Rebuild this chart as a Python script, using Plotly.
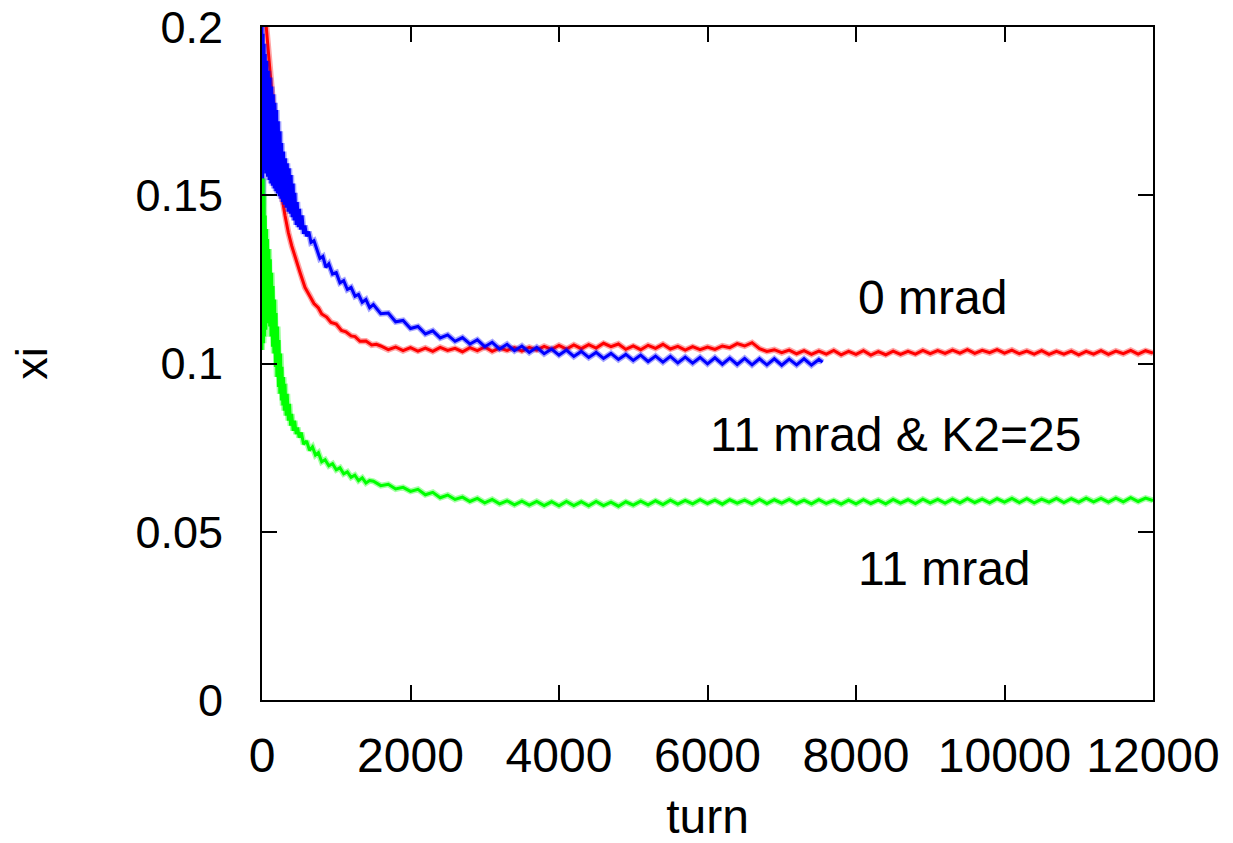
import plotly.graph_objects as go

# ---------------- data ----------------
red_turn_early = [0, 30, 63, 108, 140, 175, 220, 265, 310, 354, 400, 444, 510, 579, 640, 700,
                  760, 804, 870, 930, 1000, 1070, 1130, 1200, 1253, 1320, 1400, 1477, 1540]
red_xi_early = [0.2150, 0.2070, 0.2000, 0.1872, 0.1780, 0.1694, 0.1595, 0.1500, 0.1440, 0.1390,
                0.1350, 0.1317, 0.1272, 0.1226, 0.1203, 0.1178, 0.1165, 0.1147, 0.1138, 0.1122,
                0.1117, 0.1098, 0.1094, 0.1082, 0.1080, 0.1066, 0.1067, 0.1055, 0.1057]
red_turn_flat = list(range(1600, 12001, 100))
red_xi_flat = [
    0.1052, 0.1041, 0.1049, 0.1038, 0.1047, 0.1037, 0.1046, 0.1036, 0.1048, 0.1039,
    0.1045, 0.1035, 0.1047, 0.1038, 0.1049, 0.1036, 0.1046, 0.1039, 0.1047, 0.1037,
    0.1048, 0.1040, 0.1051, 0.1042, 0.1054, 0.1043, 0.1055, 0.1044, 0.1056, 0.1046,
    0.1060, 0.1050, 0.1058, 0.1042, 0.1052, 0.1041, 0.1054, 0.1045, 0.1057, 0.1043,
    0.1051, 0.1040, 0.1050, 0.1041, 0.1049, 0.1042, 0.1052, 0.1047, 0.1059, 0.1052,
    0.1062, 0.1044, 0.1036, 0.1041, 0.1032, 0.1040, 0.1029, 0.1038, 0.1027, 0.1037,
    0.1028, 0.1039, 0.1026, 0.1036, 0.1027, 0.1038, 0.1025, 0.1035, 0.1026, 0.1037,
    0.1027, 0.1036, 0.1028, 0.1039, 0.1029, 0.1038, 0.1030, 0.1040, 0.1031, 0.1041,
    0.1030, 0.1039, 0.1032, 0.1041, 0.1031, 0.1040, 0.1029, 0.1037, 0.1028, 0.1038,
    0.1027, 0.1036, 0.1028, 0.1037, 0.1026, 0.1036, 0.1028, 0.1038, 0.1027, 0.1037,
    0.1029, 0.1039, 0.1028, 0.1038, 0.1031]

blue_turn_early = [0, 3, 6, 10, 15, 20, 28, 36, 44, 52, 63, 74, 85, 96, 108, 119, 130, 142, 153,
                   164, 175, 186, 197, 208, 220, 232, 244, 255, 265, 277, 290, 302, 315, 328,
                   341, 354, 367, 380, 393, 406, 420, 432, 444, 460, 475, 489, 505, 520, 540,
                   560, 579, 600, 630, 660, 700, 740, 780, 820, 860, 900, 950, 1000, 1050,
                   1100, 1150, 1200, 1253, 1300, 1350, 1400, 1450, 1500]
blue_xi_early = [0.2000, 0.1250, 0.1990, 0.1550, 0.1980, 0.1580, 0.1950, 0.1575, 0.1920, 0.1565,
                 0.1900, 0.1555, 0.1870, 0.1545, 0.1850, 0.1535, 0.1823, 0.1528, 0.1800, 0.1520,
                 0.1775, 0.1512, 0.1753, 0.1505, 0.1720, 0.1497, 0.1690, 0.1490, 0.1655, 0.1480,
                 0.1630, 0.1472, 0.1610, 0.1463, 0.1595, 0.1451, 0.1580, 0.1445, 0.1560, 0.1435,
                 0.1535, 0.1425, 0.1507, 0.1412, 0.1480, 0.1405, 0.1460, 0.1398, 0.1440, 0.1385,
                 0.1410, 0.1378, 0.1392, 0.1360, 0.1365, 0.1340, 0.1312, 0.1318, 0.1286, 0.1296,
                 0.1266, 0.1270, 0.1240, 0.1246, 0.1220, 0.1226, 0.1200, 0.1205, 0.1182, 0.1190,
                 0.1166, 0.1175]
blue_turn_flat = list(range(1600, 7501, 100)) + [7550]
blue_xi_flat = [
    0.1148, 0.1150, 0.1124, 0.1128, 0.1104, 0.1110, 0.1088, 0.1097, 0.1076, 0.1085,
    0.1066, 0.1077, 0.1058, 0.1070, 0.1050, 0.1063, 0.1043, 0.1057, 0.1038, 0.1052,
    0.1033, 0.1048, 0.1029, 0.1043, 0.1025, 0.1040, 0.1021, 0.1036, 0.1018, 0.1033,
    0.1015, 0.1030, 0.1012, 0.1027, 0.1009, 0.1025, 0.1006, 0.1022, 0.1004, 0.1021,
    0.1002, 0.1019, 0.1001, 0.1018, 0.0999, 0.1017, 0.0998, 0.1016, 0.0997, 0.1015,
    0.0996, 0.1014, 0.0996, 0.1014, 0.0995, 0.1013, 0.0996, 0.1014, 0.0995, 0.1012,
    0.1004]

green_turn_early = [0, 5, 10, 15, 20, 28, 36, 44, 52, 60, 68, 76, 85, 94, 103, 112, 121, 130,
                    140, 150, 160, 170, 180, 190, 200, 210, 220, 230, 240, 250, 260, 270, 280,
                    290, 300, 310, 325, 340, 355, 370, 385, 400, 420, 440, 460, 480, 500, 530,
                    560, 600, 640, 680, 720, 760, 804, 850, 900, 950, 1000, 1050, 1100, 1150,
                    1200, 1250, 1300, 1350, 1400, 1450]
green_xi_early = [0.1040, 0.1480, 0.1050, 0.1550, 0.1060, 0.1500, 0.1080, 0.1440, 0.1100, 0.1400,
                  0.1120, 0.1370, 0.1130, 0.1340, 0.1110, 0.1310, 0.1080, 0.1270, 0.1050, 0.1230,
                  0.1030, 0.1190, 0.0990, 0.1150, 0.0960, 0.1110, 0.0930, 0.1070, 0.0910, 0.1030,
                  0.0890, 0.0990, 0.0875, 0.0960, 0.0860, 0.0940, 0.0845, 0.0910, 0.0830, 0.0880,
                  0.0815, 0.0850, 0.0800, 0.0830, 0.0790, 0.0810, 0.0780, 0.0795, 0.0760, 0.0770,
                  0.0742, 0.0752, 0.0728, 0.0735, 0.0708, 0.0714, 0.0696, 0.0702, 0.0684, 0.0690,
                  0.0672, 0.0678, 0.0662, 0.0668, 0.0652, 0.0660, 0.0645, 0.0652]
green_turn_flat = list(range(1500, 12001, 100))
green_xi_flat = [
    0.0650, 0.0637, 0.0641, 0.0627, 0.0632, 0.0620, 0.0626, 0.0610, 0.0617, 0.0601,
    0.0609, 0.0596, 0.0603, 0.0590, 0.0599, 0.0586, 0.0596, 0.0583, 0.0592, 0.0580,
    0.0591, 0.0579, 0.0590, 0.0578, 0.0589, 0.0577, 0.0590, 0.0578, 0.0589, 0.0577,
    0.0590, 0.0578, 0.0588, 0.0576, 0.0589, 0.0579, 0.0591, 0.0580, 0.0592, 0.0581,
    0.0594, 0.0582, 0.0593, 0.0583, 0.0595, 0.0584, 0.0594, 0.0582, 0.0595, 0.0585,
    0.0594, 0.0583, 0.0596, 0.0584, 0.0595, 0.0585, 0.0596, 0.0584, 0.0594, 0.0583,
    0.0595, 0.0584, 0.0593, 0.0582, 0.0594, 0.0583, 0.0595, 0.0584, 0.0594, 0.0583,
    0.0596, 0.0585, 0.0595, 0.0584, 0.0597, 0.0586, 0.0596, 0.0585, 0.0597, 0.0586,
    0.0598, 0.0587, 0.0597, 0.0586, 0.0598, 0.0588, 0.0599, 0.0587, 0.0598, 0.0586,
    0.0597, 0.0588, 0.0599, 0.0587, 0.0598, 0.0588, 0.0600, 0.0589, 0.0599, 0.0588,
    0.0600, 0.0589, 0.0601, 0.0590, 0.0600, 0.0593]

x_tick_vals = [0, 2000, 4000, 6000, 8000, 10000, 12000]
x_tick_text = ["0", "2000", "4000", "6000", "8000", "10000", "12000"]
y_tick_vals = [0, 0.05, 0.1, 0.15, 0.2]
y_tick_text = ["0", "0.05", "0.1", "0.15", "0.2"]

labels = ["0 mrad", "11 mrad & K2=25", "11 mrad"]
label_turn = [8000, 6000, 8000]
label_xi = [0.1195, 0.0788, 0.0392]

# ---------------- figure ----------------
FONT = "Liberation Sans, Arial, sans-serif"
FS = 45
FS_X = 48

fig = go.Figure()
series = [
    (red_turn_early + red_turn_flat, red_xi_early + red_xi_flat, "#ff0000", "0 mrad"),
    (blue_turn_early + blue_turn_flat, blue_xi_early + blue_xi_flat, "#0000ff", "11 mrad & K2=25"),
    (green_turn_early + green_turn_flat, green_xi_early + green_xi_flat, "#00ff00", "11 mrad"),
]
for xs, ys, col, name in series:
    # soft halo to mimic the noisy band of the sampled data
    fig.add_trace(go.Scatter(x=xs, y=ys, mode="lines", name=name, opacity=0.35,
                             line=dict(color=col, width=6), showlegend=False,
                             hoverinfo="skip"))
    fig.add_trace(go.Scatter(x=xs, y=ys, mode="lines", name=name,
                             line=dict(color=col, width=3), showlegend=False))

for txt, xt, yv in zip(labels, label_turn, label_xi):
    fig.add_annotation(x=xt, y=yv, xref="x", yref="y", text=txt, showarrow=False,
                       xanchor="left", yanchor="middle",
                       font=dict(family=FONT, size=FS_X, color="black"))

axis_common = dict(showline=True, linecolor="black", linewidth=2, mirror="ticks",
                   ticks="inside", ticklen=15, tickwidth=2, tickcolor="black",
                   showgrid=False, zeroline=False)

fig.update_xaxes(range=[0, 12000], tickvals=x_tick_vals, ticktext=x_tick_text,
                 tickfont=dict(family=FONT, size=FS_X, color="black"),
                 title=dict(text="turn", font=dict(family=FONT, size=FS_X, color="black"),
                            standoff=28),
                 ticklabelstandoff=12, **axis_common)
fig.update_yaxes(range=[0, 0.2], tickvals=y_tick_vals, ticktext=y_tick_text,
                 tickfont=dict(family=FONT, size=FS, color="black"),
                 title=dict(text="xi", font=dict(family=FONT, size=FS, color="black"),
                            standoff=74),
                 ticklabelstandoff=28, **axis_common)

fig.update_layout(width=1233, height=843,
                  margin=dict(l=262, r=80, t=27, b=143, autoexpand=False),
                  paper_bgcolor="white", plot_bgcolor="white",
                  font=dict(family=FONT, size=FS, color="black"))

fig.write_html("out.html")
